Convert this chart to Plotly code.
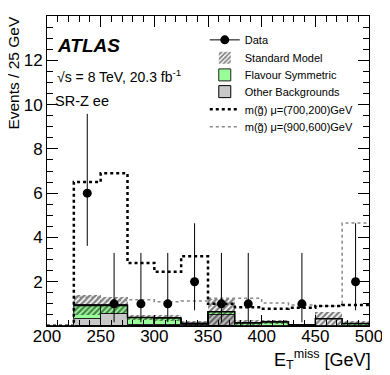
import plotly.graph_objects as go

# bin edges 200..500 in 25 GeV steps
edges = [200, 225, 250, 275, 300, 325, 350, 375, 400, 425, 450, 475, 500]
centres = [212.5, 237.5, 262.5, 287.5, 312.5, 337.5, 362.5, 387.5, 412.5, 437.5, 462.5, 487.5]

# data (None = empty bin)
data_y = [None, 6, 1, 1, 1, 2, 1, 1, None, 1, None, 2]
data_up = [None, 3.58, 2.30, 2.30, 2.30, 2.64, 2.30, 2.30, None, 2.30, None, 2.64]
data_dn = [None, 2.38, 0.83, 0.83, 0.83, 1.29, 0.83, 0.83, None, 0.83, None, 1.29]

# backgrounds per bin
other_bkg = [0.0, 0.30, 0.52, 0.05, 0.04, 0.02, 0.48, 0.02, 0.02, 0.01, 0.0, 0.02]
flav_sym = [0.0, 0.63, 0.41, 0.32, 0.31, 0.03, 0.16, 0.10, 0.15, 0.02, 0.0, 0.08]
sm_total = [0.0, 0.93, 0.93, 0.38, 0.36, 0.12, 0.64, 0.13, 0.18, 0.05, 0.33, 0.11]
sm_err = [0.0, 0.45, 0.40, 0.12, 0.12, 0.12, 0.60, 0.15, 0.10, 0.06, 0.30, 0.10]

# signals
sig_700_200 = [0.0, 6.5, 6.9, 2.85, 2.45, 3.15, 1.0, 0.85, 0.78, 0.82, 0.9, 0.95]
sig_900_600 = [0.05, 1.3, 1.15, 1.18, 1.1, 1.13, 1.25, 1.25, 1.04, 0.95, 0.9, 4.65]

FONT = "Liberation Sans, Arial, sans-serif"


def step(vals):
    return edges, list(vals) + [vals[-1]]


fig = go.Figure()

fig.add_trace(go.Bar(
    x=centres, y=other_bkg, width=25, name="Other Backgrounds", legend="legend4",
    marker=dict(color="#c8c8c8", line=dict(color="black", width=1)),
    hoverinfo="skip"))

fig.add_trace(go.Bar(
    x=centres, y=flav_sym, base=other_bkg, width=25, name="Flavour Symmetric", legend="legend3",
    marker=dict(color="#99ff99", line=dict(color="#222222", width=1)),
    hoverinfo="skip"))

band_base = [s - e for s, e in zip(sm_total, sm_err)]
band_h = [2 * e for e in sm_err]
fig.add_trace(go.Bar(
    x=centres, y=band_h, base=band_base, width=25, name="Standard Model", legend="legend2",
    marker=dict(color="rgba(0,0,0,0)", line=dict(width=0),
                pattern=dict(shape="/", fgcolor="black", bgcolor="rgba(0,0,0,0)",
                             size=4, solidity=0.55)),
    hoverinfo="skip"))

# SM total line (only from 225 on)
sx, sy = step(sm_total)
fig.add_trace(go.Scatter(x=sx[1:], y=sy[1:], mode="lines", line_shape="hv",
                         line=dict(color="black", width=1.5), showlegend=False,
                         hoverinfo="skip"))

x1, y1 = step(sig_900_600)
fig.add_trace(go.Scatter(x=x1, y=y1, mode="lines", line_shape="hv", legend="legend6",
                         line=dict(color="#888888", width=1.5, dash="dot"),
                         name="m(g̃) μ=(900,600)GeV", hoverinfo="skip"))

x2, y2 = step(sig_700_200)
fig.add_trace(go.Scatter(x=x2, y=y2, mode="lines", line_shape="hv", legend="legend5",
                         line=dict(color="black", width=2.5, dash="dot"),
                         name="m(g̃) μ=(700,200)GeV", hoverinfo="skip"))

fig.add_trace(go.Scatter(
    x=centres, y=data_y, mode="markers",
    marker=dict(color="black", size=9),
    error_y=dict(type="data", symmetric=False, array=data_up, arrayminus=data_dn,
                 color="black", thickness=1, width=0),
    showlegend=False, hoverinfo="skip"))
# legend proxy for data
fig.add_trace(go.Scatter(x=[None], y=[None], mode="lines+markers", name="Data",
                         legend="legend", marker=dict(color="black", size=9),
                         line=dict(color="black", width=1)))

fig.add_annotation(x=0.026, y=0.905, xref="paper", yref="paper", text="<b><i>ATLAS</i></b>",
                   showarrow=False, xanchor="left", yanchor="middle",
                   font=dict(size=19, family=FONT, color="black"))
fig.add_annotation(x=0.026, y=0.805, xref="paper", yref="paper",
                   text="√s = 8 TeV, 20.3 fb<sup>-1</sup>",
                   showarrow=False, xanchor="left", yanchor="middle",
                   font=dict(size=14, family=FONT, color="black"))
fig.add_annotation(x=0.02, y=0.727, xref="paper", yref="paper", text="SR-Z ee",
                   showarrow=False, xanchor="left", yanchor="middle",
                   font=dict(size=14.5, family=FONT, color="black"))

fig.add_annotation(x=-0.105, y=0.818, xref="paper", yref="paper", text="Events / 25 GeV",
                   textangle=-90, showarrow=False, xanchor="center", yanchor="middle",
                   font=dict(size=15.5, family=FONT, color="black"))
fig.add_annotation(x=1.012, y=-0.062, xref="paper", yref="paper",
                   text="E<sub>T</sub><sup>miss</sup> [GeV]",
                   showarrow=False, xanchor="right", yanchor="top",
                   font=dict(size=18, family=FONT, color="black"))

axis_common = dict(showline=True, linecolor="black", linewidth=1, mirror="ticks",
                   ticks="inside", ticklen=11, tickcolor="black", showgrid=False,
                   zeroline=False, tickfont=dict(size=17, family=FONT, color="black"))

# one legend per entry so the rows can sit closer than plotly's minimum spacing
leg_y = [0.923, 0.865, 0.810, 0.756, 0.699, 0.643]
leg_names = ["legend", "legend2", "legend3", "legend4", "legend5", "legend6"]
legends = {}
for name, yy in zip(leg_names, leg_y):
    legends[name] = dict(x=0.49, y=yy, xanchor="left", yanchor="middle",
                         bgcolor="rgba(0,0,0,0)", itemwidth=30,
                         font=dict(size=11, family=FONT, color="black"))

# page body adds an 8px margin, so the figure is shrunk by that much
fig.update_layout(
    width=382, height=367,
    margin=dict(l=39, r=17, t=7, b=49),
    plot_bgcolor="white", paper_bgcolor="white",
    barmode="overlay", bargap=0,
    font=dict(family=FONT, color="black"),
    xaxis=dict(range=[200, 500], tickvals=[200, 250, 300, 350, 400, 450, 500],
               ticklabelstandoff=-5,
               minor=dict(tick0=200, dtick=10, ticks="inside", ticklen=6, tickcolor="black"),
               **axis_common),
    yaxis=dict(range=[0, 14], tickvals=[2, 4, 6, 8, 10, 12],
               minor=dict(tick0=0, dtick=0.5, ticks="inside", ticklen=6, tickcolor="black"),
               **axis_common),
    **legends,
)

fig.write_html("out.html")
